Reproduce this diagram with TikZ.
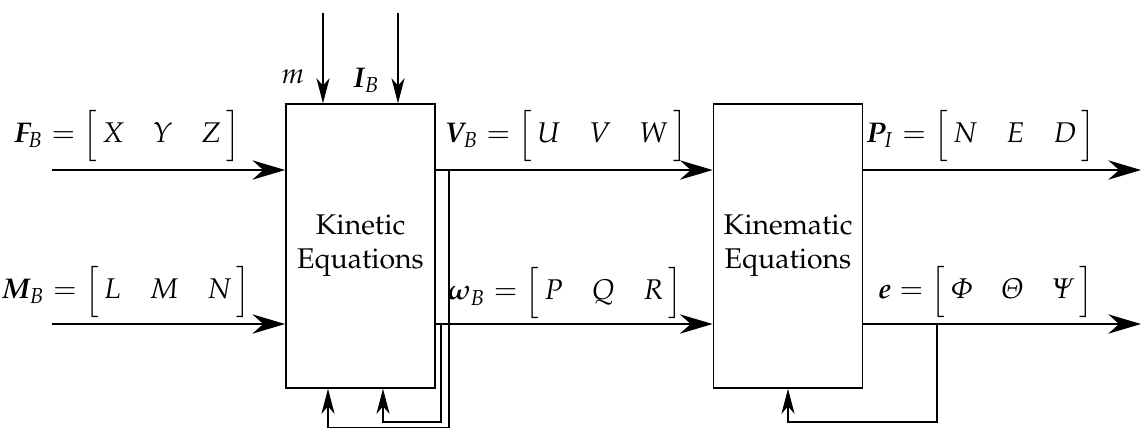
\documentclass[tikz,border=0pt]{standalone}
\usepackage[T1]{fontenc}
\usepackage{amsmath}
\usepackage[slantedGreek]{mathpazo}
\usepackage{bm}
\usetikzlibrary{arrows.meta}
\newcommand{\rowvec}[3]{\Big[\,\begin{matrix} #1 & #2 & #3\end{matrix}\,\Big]}
\tikzset{
  blk/.style={draw, line width=0.5pt, inner sep=0pt, minimum width=52.4pt, minimum height=99.7pt, align=center, font=\normalsize},
  mainarrow/.style={line width=0.7pt, -{Stealth[length=11.5pt,width=6.8pt,inset=3.8pt]}},
  smallarrow/.style={line width=0.5pt, -{Stealth[length=8.8pt,width=4.6pt,inset=2.6pt]}},
  lbl/.style={inner sep=0pt, anchor=south},
}
\begin{document}
\begin{tikzpicture}[x=0.351pt,y=-0.351pt]
\useasboundingbox (0,0) rectangle (1141,429);
% blocks
\node[blk] (kin) at (360.5,246) {Kinetic\\Equations};
\node[blk] (kmt) at (788,246) {Kinematic\\Equations};
% coordinates
\coordinate (f0) at (52,170);
\coordinate (m0) at (52,324);
\coordinate (t1) at (323,13);
\coordinate (t2) at (398,13);
\coordinate (pend) at (1141,170);
\coordinate (eend) at (1141,324);
\coordinate (vb) at (449,170);
\coordinate (wb) at (441,324);
\coordinate (eb) at (937,324);
\coordinate (fa) at (328,427.5);
\coordinate (fb) at (383,422);
\coordinate (fc) at (788,422);
% inputs
\draw[mainarrow] (f0) -- (kin.west |- f0);
\draw[mainarrow] (m0) -- (kin.west |- m0);
\draw[smallarrow] (t1) -- (t1 |- kin.north);
\draw[smallarrow] (t2) -- (t2 |- kin.north);
% intermediate
\draw[mainarrow] (kin.east |- f0) -- (kmt.west |- f0);
\draw[mainarrow] (kin.east |- m0) -- (kmt.west |- m0);
% outputs
\draw[mainarrow] (kmt.east |- pend) -- (pend);
\draw[mainarrow] (kmt.east |- eend) -- (eend);
% feedback
\draw[smallarrow] (vb) |- (fa) -- (fa |- kin.south);
\draw[smallarrow] (wb) |- (fb) -- (fb |- kin.south);
\draw[smallarrow] (eb) |- (fc) -- (fc |- kmt.south);
% labels
\node (ml) at (293,77) {$m$};
\node (il) at (366,80) {$\bm{I}_B$};
\node[lbl] (fl) at (127,163) {$\bm{F}_B = \rowvec{X}{Y}{Z}$};
\node[lbl] (mlb) at (126,319) {$\bm{M}_B = \rowvec{L}{M}{N}$};
\node[lbl] (vl) at (566,163) {$\bm{V}_B = \rowvec{U}{V}{W}$};
\node[lbl] (wl) at (565,320) {$\bm{\omega}_B = \rowvec{P}{Q}{R}$};
\node[lbl] (pl) at (981,163) {$\bm{P}_I = \rowvec{N}{E}{D}$};
\node[lbl] (el) at (986,319) {$\bm{e} = \rowvec{\Phi}{\Theta}{\Psi}$};
\end{tikzpicture}
\end{document}
